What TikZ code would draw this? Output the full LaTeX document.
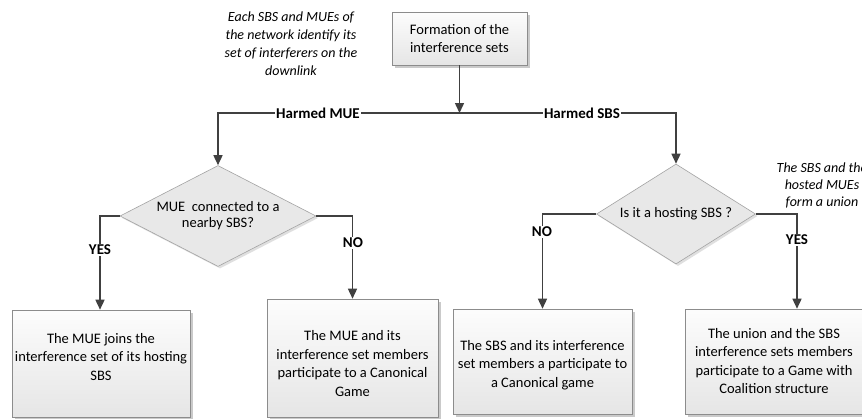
\documentclass[tikz,border=0pt]{standalone}
\usepackage{fontspec}
\setmainfont{Carlito}
\usetikzlibrary{arrows.meta,shapes.geometric,shadows}
\definecolor{linec}{HTML}{404040}
\definecolor{boxb}{HTML}{8C8C8C}
\definecolor{shad}{HTML}{CACACA}
\begin{document}
\begin{tikzpicture}[x=1pt,y=-1pt,
 procbox/.style={draw=boxb, line width=0.6pt, top color=white!99!black, bottom color=white!90!black,
   general shadow={fill=shad, shadow xshift=3pt, shadow yshift=-3pt},
   align=center, inner sep=0pt, font=\fontsize{14.5}{18.5}\selectfont},
 boxtext/.style={align=center, inner sep=0pt, font=\fontsize{14.5}{18.5}\selectfont},
 decbox/.style={diamond, draw=boxb!80, line width=0.6pt, fill=white!91!black, inner sep=0pt,
   general shadow={fill=shad!60, shadow xshift=2pt, shadow yshift=-2pt},
   align=center, font=\fontsize{14.5}{16}\selectfont},
 conn/.style={draw=linec, line width=1.5pt},
 arr/.style={conn, -{Triangle[length=10pt,width=9pt]}},
 branchlbl/.style={fill=white, inner sep=1pt, font=\bfseries\fontsize{15}{18}\selectfont},
 note/.style={align=center, font=\itshape\fontsize{14}{18}\selectfont}]
\useasboundingbox (0,0) rectangle (862,418);
\clip (0,0) rectangle (862,418);
\fill[white] (0,0) rectangle (862,418);

% nodes
\node[procbox, minimum width=135pt, minimum height=53pt] (top) at (459.5,38.5) {Formation of the\\interference sets};
\node[note] (n1) at (291,43.5) {Each SBS and MUEs of\\the network identify its\\set of interferers on the\\downlink};
\coordinate (j) at (459.5,113);
\coordinate (jl) at (441,113);
\coordinate (jr) at (477,113);
\node[decbox, aspect=2, minimum width=196pt, minimum height=101pt] (d1) at (218,216) {MUE\ \ connected to a\\nearby SBS?};
\node[decbox, aspect=1.6, minimum width=159pt, minimum height=100pt] (d2) at (676,214) {Is it a hosting SBS ?};
\node[note, font=\itshape\fontsize{14}{17}\selectfont] (n2) at (822,185) {The SBS and the\\hosted MUEs\\form a union};

\node[procbox, minimum width=178pt, minimum height=107pt] (b1) at (101,363.5) {};
\node[boxtext] (b1t) at (101,357) {The MUE joins the\\interference set of its hosting\\SBS};
\node[procbox, minimum width=171pt, minimum height=118pt] (b2) at (352.5,358) {};
\node[boxtext] (b2t) at (352.5,363.5) {The MUE and its\\interference set members\\participate to a Canonical\\Game};
\node[procbox, minimum width=179pt, minimum height=105pt] (b3) at (542.5,361.5) {};
\node[boxtext] (b3t) at (542.5,365) {The SBS and its interference\\set members a participate to\\a Canonical game};
\node[procbox, minimum width=178pt, minimum height=105pt] (b4) at (774,361.5) {};
\node[boxtext] (b4t) at (774,361) {The union and the SBS\\interference sets members\\participate to a Game with\\Coalition structure};
\coordinate (c1) at (100,0);
\coordinate (c4) at (797,0);

% connectors
\draw[arr] (top) -- (j);
\draw[arr] (j) -| (d1.north);
\draw[arr] (j) -| (d2.north);
\draw[conn, line width=2.6pt] (jl) -- (jr);
\draw[arr] (d1.west) -| (c1 |- b1.north);
\draw[arr] (d1.east) -| (b2.north);
\draw[arr] (d2.west) -| (b3.north);
\draw[arr] (d2.east) -| (c4 |- b4.north);

% labels
\node[branchlbl] (hm) at (318,113) {Harmed MUE};
\node[branchlbl] (hs) at (582,113) {Harmed SBS};
\node[branchlbl] (y1) at (100,250) {YES};
\node[branchlbl] (no1) at (353,243) {NO};
\node[branchlbl] (no2) at (542,232) {NO};
\node[branchlbl] (y2) at (797,240) {YES};
\end{tikzpicture}
\end{document}
